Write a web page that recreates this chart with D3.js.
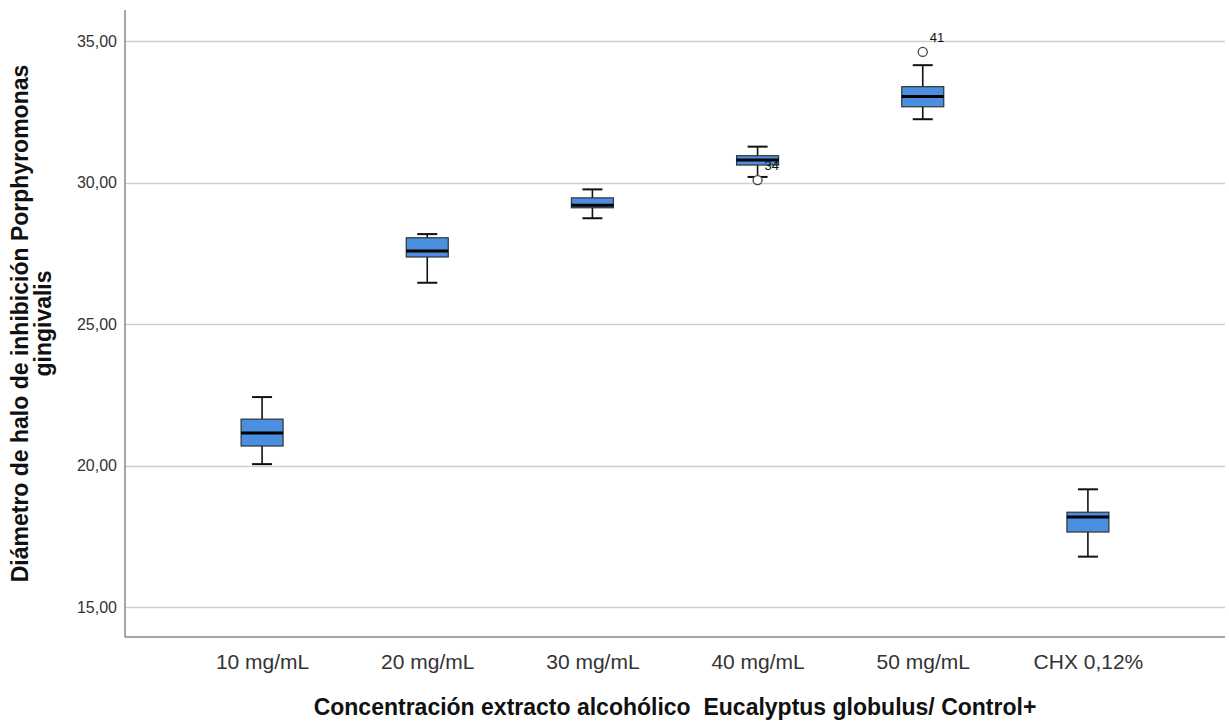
<!DOCTYPE html>
<html>
<head>
<meta charset="utf-8">
<script src="https://cdn.jsdelivr.net/npm/d3@7"></script>
<style>
  body { margin: 0; background: #fff; }
  svg { font-family: "Liberation Sans", Arial, sans-serif; }
</style>
</head>
<body>
<div id="chart"></div>
<script>
// chart data
var categories = ["10 mg/mL", "20 mg/mL", "30 mg/mL", "40 mg/mL", "50 mg/mL", "CHX 0,12%"];
var whiskerLow  = [20.05, 26.46, 28.74, 30.20, 32.24, 16.78];
var q1          = [20.69, 27.37, 29.11, 30.62, 32.68, 17.65];
var medians     = [21.15, 27.58, 29.20, 30.80, 33.04, 18.18];
var q3          = [21.64, 28.05, 29.46, 30.95, 33.39, 18.35];
var whiskerHigh = [22.42, 28.18, 29.76, 31.27, 34.15, 19.16];
var outliers = [
    {cat: "40 mg/mL", value: 30.09, label: "34"},
    {cat: "50 mg/mL", value: 34.62, label: "41"}
];
var yTicks = [15, 20, 25, 30, 35];

var width = 1229, height = 724;
var margin = {t: 10, r: 4, b: 87, l: 125};

var svg = d3.select("#chart").append("svg")
    .attr("width", width)
    .attr("height", height);

var x = d3.scalePoint()
    .domain(categories)
    .range([margin.l, width - margin.r])
    .padding(0.83);

var y = d3.scaleLinear()
    .domain([13.94, 36.1])
    .range([height - margin.b, margin.t]);

var boxW = 42, capW = 20;

// gridlines
svg.append("g").selectAll("line")
    .data(yTicks)
    .enter().append("line")
    .attr("x1", margin.l)
    .attr("x2", width - margin.r)
    .attr("y1", function(d) { return Math.round(y(d)) + 0.5; })
    .attr("y2", function(d) { return Math.round(y(d)) + 0.5; })
    .attr("stroke", "#cfcfcf")
    .attr("stroke-width", 1.5);

// y axis
var yAxis = svg.append("g")
    .attr("transform", "translate(" + margin.l + ",0)")
    .call(d3.axisLeft(y).tickValues(yTicks).tickSize(0).tickPadding(8)
        .tickFormat(function(d) { return d3.format(".2f")(d).replace(".", ","); }));
yAxis.select(".domain").remove();
yAxis.selectAll("text")
    .attr("font-size", "16px")
    .attr("fill", "#333")
    .attr("font-family", "Liberation Sans, Arial, sans-serif");

// frame lines (left and bottom)
svg.append("line")
    .attr("x1", margin.l).attr("x2", margin.l)
    .attr("y1", y.range()[1]).attr("y2", y.range()[0])
    .attr("stroke", "#888").attr("stroke-width", 1.5);
svg.append("line")
    .attr("x1", margin.l).attr("x2", width - margin.r)
    .attr("y1", y.range()[0]).attr("y2", y.range()[0])
    .attr("stroke", "#888").attr("stroke-width", 1.5);

// x axis labels
var xAxis = svg.append("g")
    .attr("transform", "translate(0," + y.range()[0] + ")")
    .call(d3.axisBottom(x).tickSize(0));
xAxis.select(".domain").remove();
xAxis.selectAll("text")
    .attr("y", 32)
    .attr("dy", 0)
    .attr("font-size", "21px")
    .attr("fill", "#333")
    .attr("font-family", "Liberation Sans, Arial, sans-serif");

// boxes
var boxData = categories.map(function(c, i) {
    return {cat: c, lo: whiskerLow[i], q1: q1[i], med: medians[i], q3: q3[i], hi: whiskerHigh[i]};
});

var g = svg.append("g").selectAll("g")
    .data(boxData)
    .enter().append("g");

g.append("line")
    .attr("x1", function(d) { return x(d.cat); })
    .attr("x2", function(d) { return x(d.cat); })
    .attr("y1", function(d) { return y(d.hi); })
    .attr("y2", function(d) { return y(d.lo); })
    .attr("stroke", "#111").attr("stroke-width", 1.6);

g.selectAll(".cap")
    .data(function(d) { return [{cat: d.cat, v: d.hi}, {cat: d.cat, v: d.lo}]; })
    .enter().append("line")
    .attr("class", "cap")
    .attr("x1", function(d) { return x(d.cat) - capW / 2; })
    .attr("x2", function(d) { return x(d.cat) + capW / 2; })
    .attr("y1", function(d) { return y(d.v); })
    .attr("y2", function(d) { return y(d.v); })
    .attr("stroke", "#111").attr("stroke-width", 2);

g.append("rect")
    .attr("x", function(d) { return x(d.cat) - boxW / 2; })
    .attr("y", function(d) { return y(d.q3); })
    .attr("width", boxW)
    .attr("height", function(d) { return y(d.q1) - y(d.q3); })
    .attr("fill", "#4a8fe0")
    .attr("stroke", "#333")
    .attr("stroke-width", 1.2);

g.append("line")
    .attr("x1", function(d) { return x(d.cat) - boxW / 2; })
    .attr("x2", function(d) { return x(d.cat) + boxW / 2; })
    .attr("y1", function(d) { return y(d.med); })
    .attr("y2", function(d) { return y(d.med); })
    .attr("stroke", "#000").attr("stroke-width", 3);

// outliers
var og = svg.append("g").selectAll("g")
    .data(outliers)
    .enter().append("g");

og.append("circle")
    .attr("cx", function(d) { return x(d.cat); })
    .attr("cy", function(d) { return y(d.value); })
    .attr("r", 4.5)
    .attr("fill", "#fff")
    .attr("stroke", "#444")
    .attr("stroke-width", 1.3);

og.append("text")
    .attr("x", function(d) { return x(d.cat) + 7; })
    .attr("y", function(d) { return y(d.value) - 10; })
    .attr("font-size", "13px")
    .attr("fill", "#111")
    .text(function(d) { return d.label; });

// axis titles
svg.append("text")
    .attr("x", (margin.l + width - margin.r) / 2)
    .attr("y", 715)
    .attr("text-anchor", "middle")
    .attr("font-size", "23px")
    .attr("font-weight", "bold")
    .attr("fill", "#111")
    .style("white-space", "pre")
    .text("Concentración extracto alcohólico  Eucalyptus globulus/ Control+");

var yTitle = svg.append("text")
    .attr("transform", "translate(0," + (y.range()[0] + y.range()[1]) / 2 + ") rotate(-90)")
    .attr("text-anchor", "middle")
    .attr("font-size", "23px")
    .attr("font-weight", "bold")
    .attr("fill", "#111");
yTitle.append("tspan").attr("x", 0).attr("y", 28).text("Diámetro de halo de inhibición Porphyromonas");
yTitle.append("tspan").attr("x", 0).attr("y", 51).text("gingivalis");
</script>
</body>
</html>
